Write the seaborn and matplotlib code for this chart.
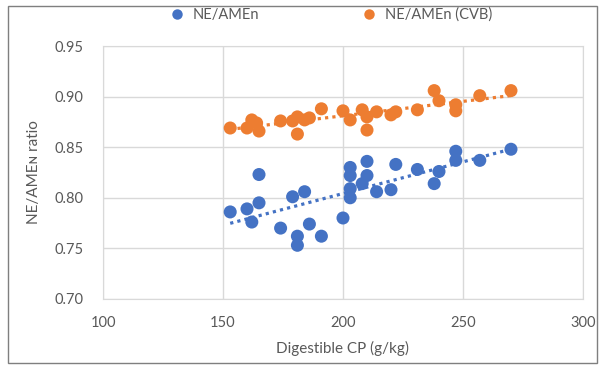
import numpy as np
import pandas as pd
import seaborn as sns
import matplotlib.pyplot as plt
from matplotlib.patches import Rectangle

sns.set_style("white")
plt.rcParams['font.family'] = ['Lato', 'DejaVu Sans']

# NE/AMEn (measured)
blue_x = [153, 160, 162, 165, 165, 174, 179, 181, 181, 184, 186, 191, 200, 203, 203,
          203, 203, 210, 210, 208, 214, 220, 222, 231, 238, 240, 247, 247, 257, 270]
blue_y = [0.786, 0.789, 0.776, 0.795, 0.823, 0.770, 0.801, 0.762, 0.753, 0.806, 0.774,
          0.762, 0.780, 0.830, 0.822, 0.809, 0.800, 0.836, 0.822, 0.814, 0.806, 0.808,
          0.833, 0.828, 0.814, 0.826, 0.846, 0.837, 0.837, 0.848]

# NE/AMEn (CVB)
orange_x = [153, 160, 162, 164, 165, 174, 179, 181, 181, 184, 186, 191, 200, 203,
            208, 210, 210, 214, 220, 222, 231, 238, 240, 247, 247, 257, 270]
orange_y = [0.869, 0.869, 0.877, 0.874, 0.866, 0.876, 0.876, 0.863, 0.880, 0.877,
            0.879, 0.888, 0.886, 0.877, 0.887, 0.880, 0.867, 0.885, 0.882, 0.885,
            0.887, 0.906, 0.896, 0.892, 0.886, 0.901, 0.906]

series = ["NE/AMEn", "NE/AMEn (CVB)"]
colors = ["#4472C4", "#ED7D31"]

df = pd.concat([
    pd.DataFrame({"cp": blue_x, "ratio": blue_y, "series": series[0]}),
    pd.DataFrame({"cp": orange_x, "ratio": orange_y, "series": series[1]}),
])

fig = plt.figure(figsize=(6.06, 3.75), dpi=100)
ax = fig.add_axes([0.170, 0.203, 0.792, 0.674])

# dotted linear trendlines, like excel
for name, col in zip(series, colors):
    sub = df[df.series == name]
    sns.regplot(data=sub, x="cp", y="ratio", ax=ax, ci=None, scatter=False,
                color=col, line_kws={"linestyle": (0, (1, 1.3)), "linewidth": 2.3})

sns.scatterplot(data=df, x="cp", y="ratio", hue="series", palette=colors,
                s=88, edgecolor="none", ax=ax, zorder=3)

ax.set_xlim(100, 300)
ax.set_ylim(0.70, 0.95)
ax.set_xticks([100, 150, 200, 250, 300])
ax.set_yticks(np.arange(0.70, 0.951, 0.05))
ax.set_yticklabels([f"{v:.2f}" for v in np.arange(0.70, 0.951, 0.05)])
ax.grid(True, color="#d9d9d9", linewidth=1)
for s in ax.spines.values():
    s.set_color("#d9d9d9")
ax.tick_params(length=0, labelsize=10.5, labelcolor="#595959")
ax.tick_params(axis="y", pad=14)
ax.tick_params(axis="x", pad=12)
ax.set_xlabel("Digestible CP (g/kg)", fontsize=11, color="#595959", labelpad=8)
ax.set_ylabel("NE/AMEɴ ratio", fontsize=11, color="#595959", labelpad=10)

handles, labels = ax.get_legend_handles_labels()
ax.get_legend().remove()
fig.legend(handles, labels, loc="center", bbox_to_anchor=(0.54, 0.96), ncol=2,
           frameon=False, fontsize=10.5, labelcolor="#595959", columnspacing=6.5,
           handletextpad=0.1, markerscale=0.8)

fig.patches.append(Rectangle((8 / 606, 12 / 375), 589 / 606, 357 / 375,
                             transform=fig.transFigure, fill=False,
                             edgecolor="#7f7f7f", linewidth=1))

fig.savefig("out.png", dpi=100)
